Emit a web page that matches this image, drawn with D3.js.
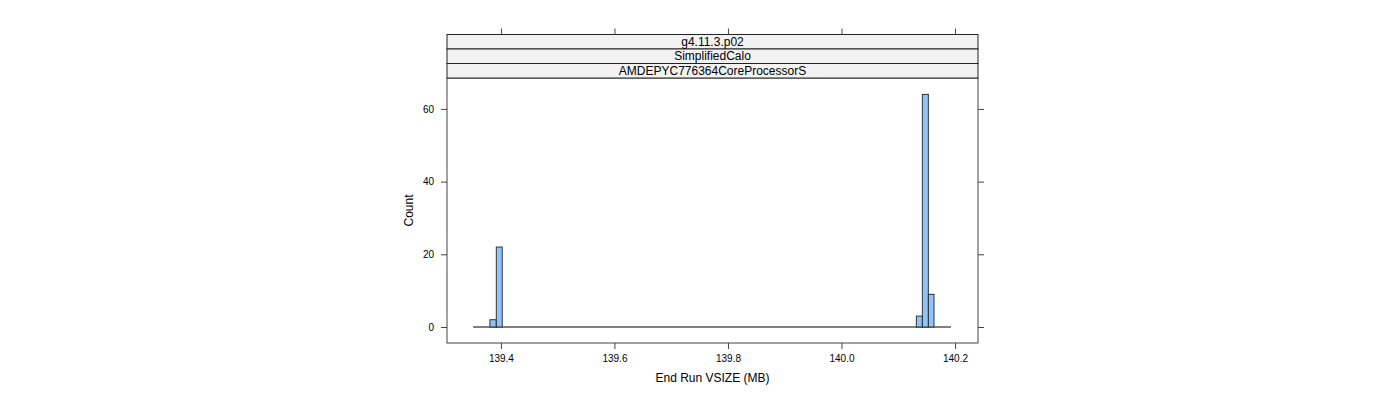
<!DOCTYPE html>
<html>
<head>
<meta charset="utf-8">
<script src="https://cdn.jsdelivr.net/npm/d3@7"></script>
<style>
  body { margin: 0; background: #fff; }
  text { font-family: "Liberation Sans", Arial, sans-serif; }
</style>
</head>
<body>
<script>
// histogram bins (start, end) and counts
var binStart = [139.3806, 139.3918, 140.1318, 140.1424, 140.1530];
var binEnd   = [139.3918, 139.4023, 140.1424, 140.1530, 140.1630];
var counts   = [2, 22, 3, 64, 9];
// full range covered by (mostly empty) bins
var binRange = [139.351, 140.193];

var xTicks = [139.4, 139.6, 139.8, 140.0, 140.2];
var yTicks = [0, 20, 40, 60];
var strips = ["g4.11.3.p02", "SimplifiedCalo", "AMDEPYC776364CoreProcessorS"];

var width = 1400, height = 400;
var panel = { left: 447, right: 978, top: 78, bottom: 343 };
var stripH = 14.5;

var svg = d3.select("body").append("svg")
            .attr("width", width)
            .attr("height", height);

var x = d3.scaleLinear().domain([139.305, 140.2405]).range([panel.left, panel.right]);
var y = d3.scaleLinear().domain([-4.4, 68.5]).range([panel.bottom, panel.top]);

var bins = counts.map(function(c, i) { return { x0: binStart[i], x1: binEnd[i], n: c }; });

// baseline made by the empty bins
svg.append("line")
   .attr("x1", x(binRange[0]))
   .attr("x2", x(binRange[1]))
   .attr("y1", y(0))
   .attr("y2", y(0))
   .attr("stroke", "#000")
   .attr("stroke-width", 1);

// bars
svg.append("g")
   .selectAll("rect")
   .data(bins)
   .enter()
     .append("rect")
     .attr("x", function(d) { return x(d.x0); })
     .attr("y", function(d) { return y(d.n); })
     .attr("width", function(d) { return x(d.x1) - x(d.x0); })
     .attr("height", function(d) { return y(0) - y(d.n); })
     .attr("fill", "#90c3f8")
     .attr("stroke", "#222")
     .attr("stroke-width", 0.9);

// panel box
svg.append("rect")
   .attr("x", panel.left)
   .attr("y", panel.top)
   .attr("width", panel.right - panel.left)
   .attr("height", panel.bottom - panel.top)
   .attr("fill", "none")
   .attr("stroke", "#444")
   .attr("stroke-width", 1);

// strips
var stripTop = panel.top - strips.length * stripH;
strips.forEach(function(s, i) {
    var sy = stripTop + i * stripH;
    svg.append("rect")
       .attr("x", panel.left)
       .attr("y", sy)
       .attr("width", panel.right - panel.left)
       .attr("height", stripH)
       .attr("fill", "#f2f2f2")
       .attr("stroke", "#222")
       .attr("stroke-width", 1);
    svg.append("text")
       .attr("x", (panel.left + panel.right) / 2)
       .attr("y", sy + stripH / 2 + 4.2)
       .attr("text-anchor", "middle")
       .attr("font-size", 12)
       .attr("fill", "#000")
       .text(s);
});

// axes (lattice style: ticks on all sides, labels left/bottom)
var tickCol = "#444";
var ax = svg.append("g")
            .attr("transform", "translate(0," + panel.bottom + ")")
            .call(d3.axisBottom(x).tickValues(xTicks).tickSize(6).tickPadding(6)
                    .tickFormat(d3.format(".1f")));
var axTop = svg.append("g")
               .attr("transform", "translate(0," + stripTop + ")")
               .call(d3.axisTop(x).tickValues(xTicks).tickSize(6).tickFormat(""));
var ay = svg.append("g")
            .attr("transform", "translate(" + panel.left + ",0)")
            .call(d3.axisLeft(y).tickValues(yTicks).tickSize(6).tickPadding(7));
var ayR = svg.append("g")
             .attr("transform", "translate(" + panel.right + ",0)")
             .call(d3.axisRight(y).tickValues(yTicks).tickSize(6).tickFormat(""));

[ax, axTop, ay, ayR].forEach(function(g) {
    g.select(".domain").remove();
    g.selectAll(".tick line").attr("stroke", tickCol);
    g.selectAll("text")
     .attr("font-family", "Liberation Sans, Arial, sans-serif")
     .attr("font-size", 10)
     .attr("fill", "#000");
});

// axis titles
svg.append("text")
   .attr("x", (panel.left + panel.right) / 2)
   .attr("y", 382)
   .attr("text-anchor", "middle")
   .attr("font-size", 12)
   .text("End Run VSIZE (MB)");

svg.append("text")
   .attr("transform", "translate(413," + ((panel.top + panel.bottom) / 2) + ") rotate(-90)")
   .attr("text-anchor", "middle")
   .attr("font-size", 12)
   .text("Count");
</script>
</body>
</html>
